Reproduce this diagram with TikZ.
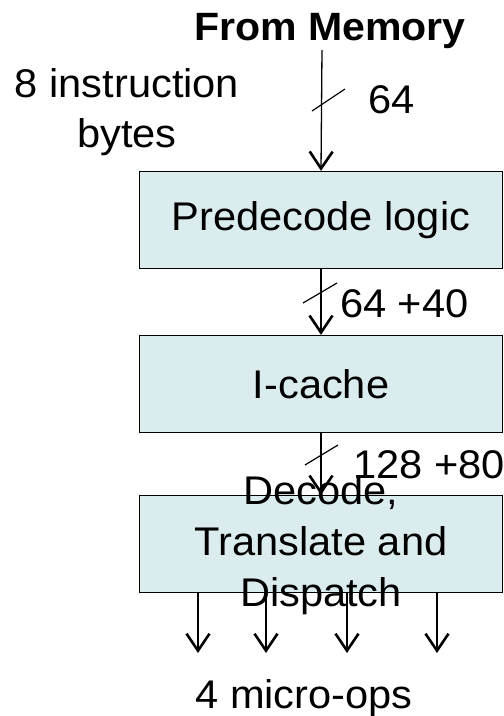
\documentclass[tikz,border=0pt]{standalone}
\usepackage{fontspec}
\setmainfont[FakeStretch=1.04]{Liberation Sans}
\usepackage{tikz}
\usetikzlibrary{arrows.meta}
\definecolor{boxfill}{RGB}{218,236,238}

\begin{document}
\begin{tikzpicture}[x=1pt,y=-1pt,font=\fontsize{40}{51}\selectfont,
    block/.style={draw,fill=boxfill,line width=1.3pt,minimum width=363pt,
        minimum height=97pt,inner sep=0pt},
    bus/.style={line width=1.3pt,-{Straight Barb[length=17pt,width=23pt,line width=2.6pt]}},
    tick/.style={line width=1.2pt}]
      \useasboundingbox (0,0) rectangle (504,716);
      \node[anchor=base,font=\fontsize{39.5}{40}\bfseries] (memory) at (330,40) {From Memory};
      \node[anchor=base] (bytes1) at (127,97) {8 instruction};
      \node[anchor=base] (bytes2) at (127,147) {bytes};
      \node[block] (predecode) at (321,220) {Predecode logic};
      \node[block] (icache) at (321,384) {I-cache};
      \node[block] (decode) at (321,544) {};
      \node[align=center] (decodetext) at (321,545) {Decode,\\Translate and\\Dispatch};
      \coordinate (memin) at (322,50);
      \path
      (memin) edge [bus] node {} (predecode.north)
      (predecode) edge [bus] node {} (icache)
      (icache) edge [bus] node {} (decode);
      % bus width marks
      \draw[tick] (312,111) -- (345,89);
      \draw[tick] (303,303) -- (337,283);
      \draw[tick] (305,465) -- (338,445);
      \node[anchor=base west,inner sep=0pt] (w1) at (368,113) {64};
      \node[anchor=base west,inner sep=0pt] (w2) at (340,317) {64 +40};
      \node[anchor=base west,inner sep=0pt] (w3) at (353,478) {128 +80};
      \foreach \x [count=\i] in {198,266,347,437} {
        \coordinate (out\i) at (\x,653);
        \draw[bus] (decode.south -| out\i) -- (out\i);
      }
      \node[anchor=base] (uops) at (304,708) {4 micro-ops};
    \end{tikzpicture}
\end{document}
